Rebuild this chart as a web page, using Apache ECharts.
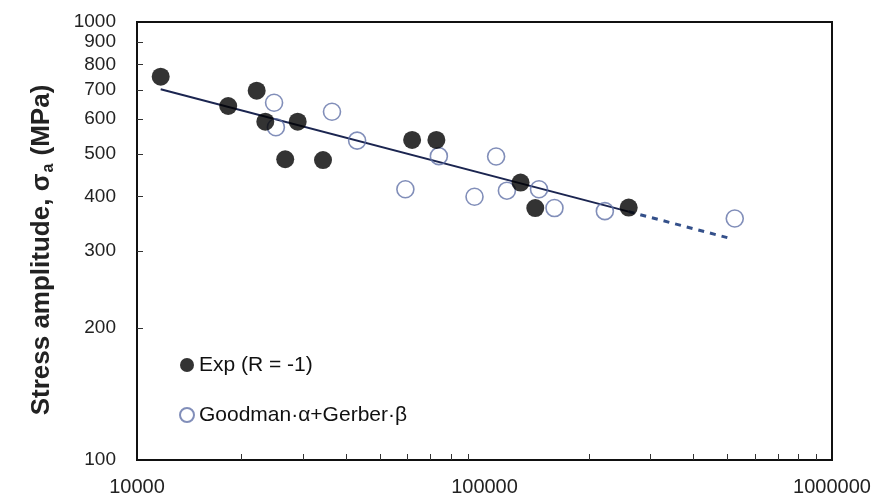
<!DOCTYPE html>
<html>
<head>
<meta charset="utf-8">
<script src="https://cdn.jsdelivr.net/npm/echarts@6/dist/echarts.min.js"></script>
<style>
  html, body { margin: 0; padding: 0; background: #fff; }
  #chart { width: 872px; height: 500px; }
</style>
</head>
<body>
<div id="chart"></div>
<script>
// 实验数据 (R = -1)
const expCycles = [11700, 18300, 22100, 23400, 29000, 26700, 34300, 61900, 72700, 127000, 140000, 260000];
const expStress = [750, 643, 697, 592, 592, 486, 484, 538, 538, 430, 376, 377];

// Goodman·α+Gerber·β 预测
const predCycles = [24800, 25100, 36400, 43000, 59200, 73900, 93600, 108000, 116000, 143500, 159000, 222000, 525000];
const predStress = [654, 575, 624, 536, 415, 494, 399, 493, 412, 415, 376, 370, 356];

// 拟合线 (实线 + 外推虚线)
const fitCycles = [11700, 260000];
const fitStress = [702, 369];
const extCycles = [260000, 506000];
const extStress = [369, 321];

// 刻度
const yLabelValues = [100, 200, 300, 400, 500, 600, 700, 800, 900, 1000];
const yTickValues = [200, 300, 400, 500, 600, 700, 800, 900];
const xLabelValues = [10000, 100000, 1000000];
const xTickValues = [20000, 30000, 40000, 50000, 60000, 70000, 80000, 90000,
  200000, 300000, 400000, 500000, 600000, 700000, 800000, 900000];

const pairs = (xs, ys) => xs.map((x, i) => [x, ys[i]]);

const font = "'Liberation Sans Narrow', 'Arial Narrow', 'Liberation Sans', Arial, sans-serif";

const chart = echarts.init(document.getElementById('chart'));

const option = {
  backgroundColor: '#fff',
  animation: false,
  grid: {
    left: 137, right: 40, top: 22, bottom: 40,
    outerBoundsMode: 'none',
    containLabel: false,
    show: true,
    borderColor: '#111',
    borderWidth: 2
  },
  legend: {
    data: ['Exp (R = -1)', 'Goodman·α+Gerber·β'],
    orient: 'vertical',
    left: 174,
    top: 346,
    itemWidth: 14,
    itemHeight: 14,
    itemGap: 22,
    itemTextGap: 6,
    icon: 'circle',
    textStyle: { fontFamily: font, fontSize: 21, color: '#111', lineHeight: 28 }
  },
  xAxis: {
    type: 'log',
    logBase: 10,
    min: 10000,
    max: 1000000,
    splitLine: { show: false },
    axisLine: { lineStyle: { color: '#111', width: 2 } },
    axisTick: {
      inside: true,
      length: 6,
      customValues: xTickValues,
      lineStyle: { color: '#333', width: 1 }
    },
    minorTick: { show: false },
    axisLabel: {
      customValues: xLabelValues,
      showMinLabel: true,
      showMaxLabel: true,
      hideOverlap: false,
      formatter: (v) => String(Math.round(v)),
      fontFamily: font, fontSize: 20, color: '#222', margin: 17
    }
  },
  yAxis: {
    type: 'log',
    logBase: 10,
    min: 100,
    max: 1000,
    name: '{b|Stress amplitude, σ}{s|a}{b| (MPa)}',
    nameLocation: 'middle',
    nameGap: 80,
    nameTextStyle: {
      padding: [0, 18, 0, 0],
      rich: {
        b: { fontFamily: 'Liberation Sans, Arial, sans-serif', fontSize: 26, fontWeight: 'bold', color: '#222' },
        s: { fontFamily: 'Liberation Sans, Arial, sans-serif', fontSize: 16, fontWeight: 'bold', color: '#222', verticalAlign: 'bottom', padding: [14, 1, 0, 1] }
      }
    },
    splitLine: { show: false },
    axisLine: { lineStyle: { color: '#111', width: 2 } },
    axisTick: {
      inside: true,
      length: 6,
      customValues: yTickValues,
      lineStyle: { color: '#333', width: 1 }
    },
    axisLabel: {
      customValues: yLabelValues,
      showMinLabel: true,
      showMaxLabel: true,
      hideOverlap: false,
      formatter: (v) => String(Math.round(v)),
      fontFamily: font, fontSize: 19, color: '#222', margin: 21
    }
  },
  series: [
    {
      name: 'fit',
      type: 'line',
      data: pairs(fitCycles, fitStress),
      symbol: 'none',
      lineStyle: { color: '#1b2550', width: 2 },
      z: 2
    },
    {
      name: 'fit-ext',
      type: 'line',
      data: pairs(extCycles, extStress),
      symbol: 'none',
      lineStyle: { color: '#34508a', width: 3, type: [6, 6] },
      z: 2
    },
    {
      name: 'Goodman·α+Gerber·β',
      type: 'scatter',
      data: pairs(predCycles, predStress),
      symbol: 'circle',
      symbolSize: 17,
      itemStyle: { color: 'rgba(255,255,255,0)', borderColor: '#6272a8', borderWidth: 1.6 },
      z: 3
    },
    {
      name: 'Exp (R = -1)',
      type: 'scatter',
      data: pairs(expCycles, expStress),
      symbol: 'circle',
      symbolSize: 18,
      itemStyle: { color: '#000' },
      z: 4
    }
  ]
};

chart.setOption(option);
</script>
</body>
</html>
